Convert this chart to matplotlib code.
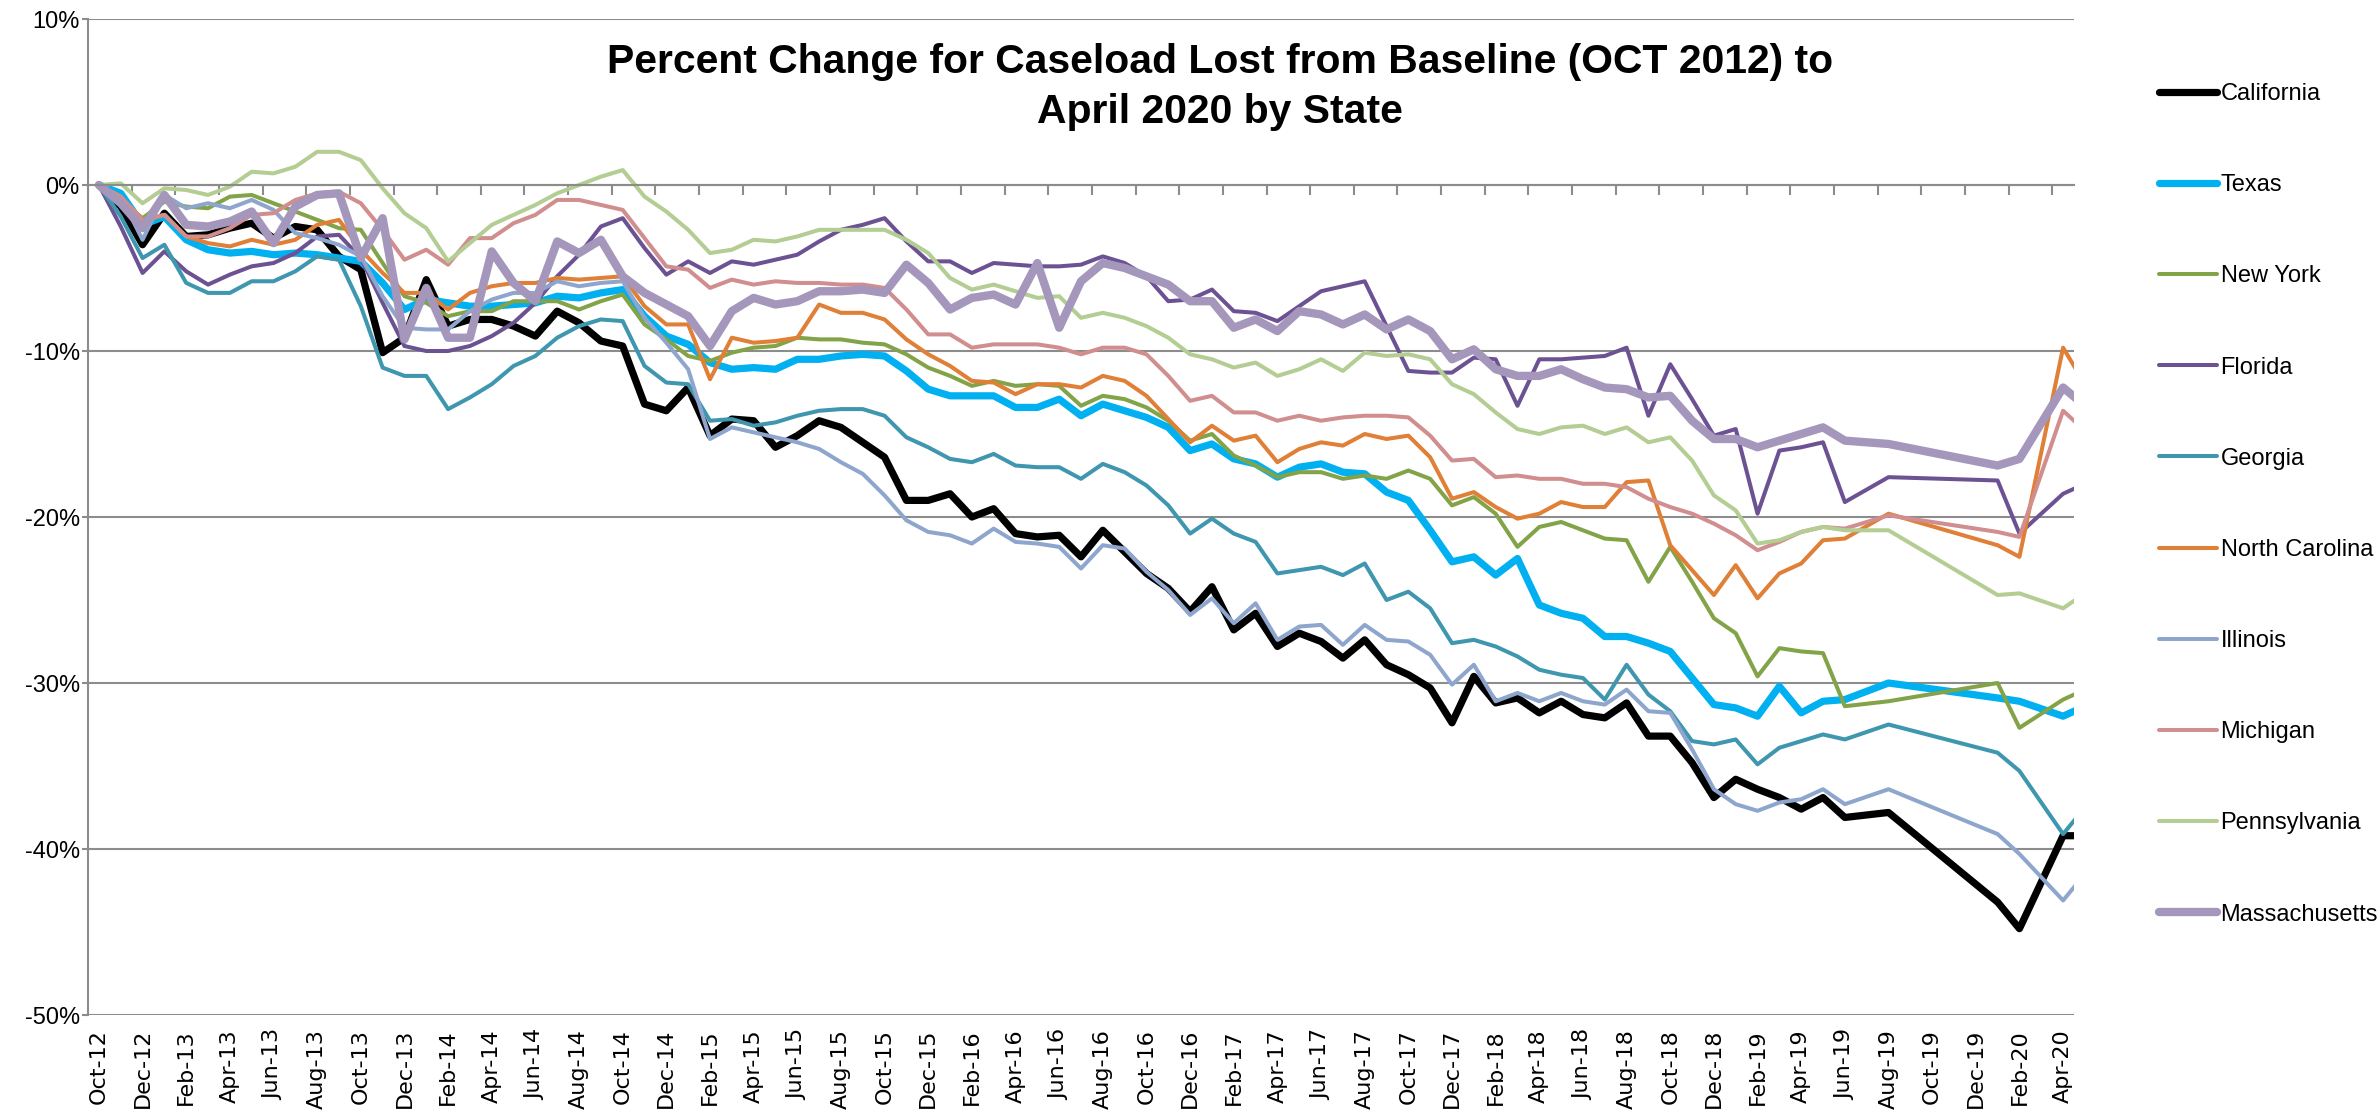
import numpy as np
import pandas as pd
import matplotlib
matplotlib.use('Agg')
import matplotlib.pyplot as plt

# monthly axis Oct-12 .. Apr-20 (May-20 is only the clipped tail at the right edge)
months = pd.date_range('2012-10-01', '2020-05-01', freq='MS')
month_labels = [m.strftime('%b-%y') for m in months]
n_shown = 91  # Oct-12 .. Apr-20

# percent change from Oct 2012, None = month with no data point
california = [0, -1.3, -3.6, -1.7, -3.1, -3.0, -2.6, -2.3, -3.2, -2.5,
              -2.7, -4.3, -5.1, -10.1, -9.2, -5.7, -8.5, -8.1, -8.1, -8.5,
              -9.1, -7.6, -8.3, -9.4, -9.7, -13.2, -13.6, -12.2, -15.1, -14.1,
              -14.2, -15.8, -15.1, -14.2, -14.6, -15.5, -16.4, -19.0, -19.0, -18.6,
              -20.0, -19.5, -21.0, -21.2, -21.1, -22.4, -20.8, -22.1, -23.4, -24.3,
              -25.7, -24.2, -26.8, -25.8, -27.8, -27.0, -27.5, -28.5, -27.4, -28.9,
              -29.5, -30.3, -32.4, -29.6, -31.2, -30.9, -31.8, -31.1, -31.9, -32.1,
              -31.2, -33.2, -33.2, -34.8, -36.9, -35.8, -36.4, -36.9, -37.6, -36.9,
              -38.1, None, -37.8, None, None, None, None, -43.2, -44.8, None,
              -39.2, -39.2]
texas = [0, -0.5, -2.4, -1.9, -3.3, -3.9, -4.1, -4.0, -4.2, -4.1,
         -4.2, -4.4, -4.6, -5.9, -7.5, -6.9, -7.1, -7.3, -7.3, -7.2,
         -7.1, -6.7, -6.8, -6.5, -6.3, -7.9, -9.1, -9.6, -10.7, -11.1,
         -11.0, -11.1, -10.5, -10.5, -10.3, -10.2, -10.3, -11.2, -12.3, -12.7,
         -12.7, -12.7, -13.4, -13.4, -12.9, -13.9, -13.2, -13.6, -14.0, -14.6,
         -16.0, -15.6, -16.5, -16.8, -17.6, -17.0, -16.8, -17.3, -17.4, -18.5,
         -19.0, -20.8, -22.7, -22.4, -23.5, -22.5, -25.3, -25.8, -26.1, -27.2,
         -27.2, -27.6, -28.1, -29.7, -31.3, -31.5, -32.0, -30.2, -31.8, -31.1,
         -31.0, None, -30.0, None, None, None, None, -30.9, -31.1, None,
         -32.0, -31.4]
new_york = [0, -0.9, -2.0, -1.0, -1.3, -1.4, -0.7, -0.6, -1.1, -1.6,
            -2.1, -2.6, -2.7, -4.7, -6.7, -7.1, -7.9, -7.6, -7.6, -7.0,
            -7.0, -7.0, -7.5, -7.0, -6.6, -8.4, -9.3, -10.3, -10.6, -10.1,
            -9.8, -9.7, -9.2, -9.3, -9.3, -9.5, -9.6, -10.2, -11.0, -11.5,
            -12.1, -11.8, -12.1, -12.0, -12.1, -13.3, -12.7, -12.9, -13.4, -14.2,
            -15.4, -15.0, -16.3, -16.9, -17.6, -17.3, -17.3, -17.7, -17.5, -17.7,
            -17.2, -17.7, -19.3, -18.8, -19.8, -21.8, -20.6, -20.3, -20.8, -21.3,
            -21.4, -23.9, -21.8, -23.9, -26.1, -27.0, -29.6, -27.9, -28.1, -28.2,
            -31.4, None, -31.1, None, None, None, None, -30.0, -32.7, None,
            -31.0, -30.4]
florida = [0, -2.5, -5.3, -4.0, -5.2, -6.0, -5.4, -4.9, -4.7, -4.1,
           -3.1, -3.0, -4.4, -7.1, -9.7, -10.0, -10.0, -9.7, -9.1, -8.3,
           -7.1, -5.5, -4.2, -2.5, -2.0, -3.8, -5.4, -4.6, -5.3, -4.6,
           -4.8, -4.5, -4.2, -3.4, -2.7, -2.4, -2.0, -3.4, -4.6, -4.6,
           -5.3, -4.7, -4.8, -4.9, -4.9, -4.8, -4.3, -4.7, -5.5, -7.0,
           -6.9, -6.3, -7.6, -7.7, -8.2, -7.3, -6.4, -6.1, -5.8, -8.5,
           -11.2, -11.3, -11.3, -10.4, -10.5, -13.3, -10.5, -10.5, -10.4, -10.3,
           -9.8, -13.9, -10.8, -12.9, -15.1, -14.7, -19.8, -16.0, -15.8, -15.5,
           -19.1, None, -17.6, None, None, None, None, -17.8, -21.0, None,
           -18.6, -18.0]
georgia = [0, -1.9, -4.4, -3.6, -5.9, -6.5, -6.5, -5.8, -5.8, -5.2,
           -4.3, -4.5, -7.3, -11.0, -11.5, -11.5, -13.5, -12.8, -12.0, -10.9,
           -10.3, -9.2, -8.5, -8.1, -8.2, -10.9, -11.9, -12.0, -14.2, -14.1,
           -14.5, -14.3, -13.9, -13.6, -13.5, -13.5, -13.9, -15.2, -15.8, -16.5,
           -16.7, -16.2, -16.9, -17.0, -17.0, -17.7, -16.8, -17.3, -18.1, -19.3,
           -21.0, -20.1, -21.0, -21.5, -23.4, -23.2, -23.0, -23.5, -22.8, -25.0,
           -24.5, -25.5, -27.6, -27.4, -27.8, -28.4, -29.2, -29.5, -29.7, -31.0,
           -28.9, -30.7, -31.7, -33.5, -33.7, -33.4, -34.9, -33.9, -33.5, -33.1,
           -33.4, None, -32.5, None, None, None, None, -34.2, -35.3, None,
           -39.1, -37.5]
north_carolina = [0, -0.7, -2.2, -1.8, -3.1, -3.5, -3.7, -3.3, -3.6, -3.3,
                  -2.4, -2.1, -3.9, -5.3, -6.5, -6.5, -7.5, -6.5, -6.1, -5.9,
                  -5.9, -5.6, -5.7, -5.6, -5.5, -7.3, -8.4, -8.4, -11.7, -9.2,
                  -9.5, -9.4, -9.2, -7.2, -7.7, -7.7, -8.1, -9.3, -10.2, -10.9,
                  -11.8, -11.9, -12.6, -12.0, -12.0, -12.2, -11.5, -11.8, -12.7, -14.1,
                  -15.5, -14.5, -15.4, -15.1, -16.7, -15.9, -15.5, -15.7, -15.0, -15.3,
                  -15.1, -16.4, -18.9, -18.5, -19.4, -20.1, -19.8, -19.1, -19.4, -19.4,
                  -17.9, -17.8, -21.7, -23.2, -24.7, -22.9, -24.9, -23.4, -22.8, -21.4,
                  -21.3, None, -19.8, None, None, None, None, -21.7, -22.4, None,
                  -9.8, -12.0]
illinois = [0, -0.7, -3.3, -0.6, -1.4, -1.1, -1.4, -0.9, -1.5, -2.9,
            -3.2, -3.6, -4.3, -6.7, -8.6, -8.7, -8.7, -7.6, -6.9, -6.5,
            -6.5, -5.8, -6.1, -5.9, -5.8, -8.0, -9.5, -11.1, -15.3, -14.6,
            -14.9, -15.2, -15.5, -15.9, -16.7, -17.4, -18.7, -20.2, -20.9, -21.1,
            -21.6, -20.7, -21.5, -21.6, -21.8, -23.1, -21.7, -21.9, -23.3, -24.4,
            -25.9, -24.9, -26.4, -25.2, -27.4, -26.6, -26.5, -27.7, -26.5, -27.4,
            -27.5, -28.3, -30.1, -28.9, -31.1, -30.6, -31.1, -30.6, -31.1, -31.3,
            -30.4, -31.7, -31.8, -34.0, -36.4, -37.3, -37.7, -37.2, -37.0, -36.4,
            -37.3, None, -36.4, None, None, None, None, -39.1, -40.3, None,
            -43.1, -41.5]
michigan = [0, -0.7, -2.1, -1.8, -3.1, -3.1, -2.6, -1.8, -1.7, -0.9,
            -0.5, -0.4, -1.1, -2.7, -4.5, -3.9, -4.8, -3.2, -3.2, -2.3,
            -1.8, -0.9, -0.9, -1.2, -1.5, -3.2, -4.9, -5.1, -6.2, -5.7,
            -6.0, -5.8, -5.9, -5.9, -6.0, -6.0, -6.2, -7.5, -9.0, -9.0,
            -9.8, -9.6, -9.6, -9.6, -9.8, -10.2, -9.8, -9.8, -10.2, -11.5,
            -13.0, -12.7, -13.7, -13.7, -14.2, -13.9, -14.2, -14.0, -13.9, -13.9,
            -14.0, -15.1, -16.6, -16.5, -17.6, -17.5, -17.7, -17.7, -18.0, -18.0,
            -18.2, -18.9, -19.4, -19.8, -20.4, -21.1, -22.0, -21.5, -20.9, -20.6,
            -20.7, None, -19.9, None, None, None, None, -20.9, -21.2, None,
            -13.6, -14.8]
pennsylvania = [0, 0.1, -1.1, -0.2, -0.3, -0.6, -0.1, 0.8, 0.7, 1.1,
                2.0, 2.0, 1.5, -0.2, -1.7, -2.6, -4.6, -3.5, -2.4, -1.8,
                -1.2, -0.5, 0.0, 0.5, 0.9, -0.7, -1.6, -2.7, -4.1, -3.9,
                -3.3, -3.4, -3.1, -2.7, -2.7, -2.7, -2.7, -3.3, -4.1, -5.6,
                -6.3, -6.0, -6.4, -6.8, -6.7, -8.0, -7.7, -8.0, -8.5, -9.2,
                -10.2, -10.5, -11.0, -10.7, -11.5, -11.1, -10.5, -11.2, -10.1, -10.3,
                -10.2, -10.5, -12.0, -12.6, -13.7, -14.7, -15.0, -14.6, -14.5, -15.0,
                -14.6, -15.5, -15.2, -16.6, -18.7, -19.6, -21.6, -21.4, -20.9, -20.6,
                -20.8, None, -20.8, None, None, None, None, -24.7, -24.6, None,
                -25.5, -24.6]
massachusetts = [0, -1.1, -2.6, -0.6, -2.4, -2.5, -2.2, -1.6, -3.5, -1.3,
                 -0.6, -0.5, -4.4, -2.0, -9.3, -6.2, -9.2, -9.2, -4.0, -5.9,
                 -7.0, -3.4, -4.1, -3.3, -5.5, -6.5, -7.2, -7.9, -9.7, -7.6,
                 -6.8, -7.2, -7.0, -6.4, -6.4, -6.3, -6.5, -4.8, -5.9, -7.5,
                 -6.8, -6.6, -7.2, -4.7, -8.6, -5.8, -4.7, -5.0, -5.5, -6.0,
                 -7.0, -7.0, -8.6, -8.1, -8.8, -7.6, -7.8, -8.4, -7.8, -8.7,
                 -8.1, -8.8, -10.5, -9.9, -11.1, -11.5, -11.5, -11.1, -11.7, -12.2,
                 -12.3, -12.8, -12.7, -14.2, -15.3, -15.3, -15.8, -15.4, -15.0, -14.6,
                 -15.4, None, -15.6, None, None, None, None, -16.9, -16.5, None,
                 -12.2, -13.3]

states = ['California', 'Texas', 'New York', 'Florida', 'Georgia',
          'North Carolina', 'Illinois', 'Michigan', 'Pennsylvania', 'Massachusetts']
values = [california, texas, new_york, florida, georgia,
          north_carolina, illinois, michigan, pennsylvania, massachusetts]
colors = ['#000000', '#00B0F0', '#82A347', '#6C5193', '#3F96AF',
          '#E07F36', '#8EA6CD', '#D18E8F', '#B3CD93', '#A596BB']
widths = [5.2, 5.2, 2.9, 2.9, 2.9, 2.9, 2.9, 2.9, 2.9, 6.0]

yticks = [10, 0, -10, -20, -30, -40, -50]
ytick_labels = ['10%', '0%', '-10%', '-20%', '-30%', '-40%', '-50%']

title = 'Percent Change for Caseload Lost from Baseline (OCT 2012) to\nApril 2020 by State'

sans = ['Liberation Sans', 'DejaVu Sans']
grid_col = '#8C8C8C'

W, H = 2379, 1110
fig = plt.figure(figsize=(W / 100, H / 100), dpi=100)
ax = fig.add_axes([88 / W, 1 - 1015 / H, (2074 - 88) / W, (1015 - 19) / H])

x = np.arange(len(months))
for name, vals, col, lw in zip(states, values, colors, widths):
    v = np.array(vals, dtype=float)
    ok = ~np.isnan(v)
    ax.plot(x[ok], v[ok], color=col, lw=lw, label=name,
            solid_joinstyle='round', solid_capstyle='round')

ax.set_xlim(-0.5, n_shown - 0.5)
ax.set_ylim(-50, 10)

# horizontal gridlines
ax.set_yticks(yticks, ytick_labels)
ax.yaxis.grid(True, color=grid_col, lw=1.5)
ax.set_axisbelow(True)
ax.tick_params(axis='y', length=4, width=1.5, color=grid_col, pad=2,
               labelsize=17, labelcolor='black')
for lab in ax.get_yticklabels():
    lab.set_family(sans)

for s in ['top', 'right']:
    ax.spines[s].set_visible(False)
ax.spines['left'].set_color(grid_col)
ax.spines['left'].set_linewidth(1.5)

# category axis crosses at 0%, tick marks every two months between categories
ax.spines['bottom'].set_position(('data', 0))
ax.spines['bottom'].set_color(grid_col)
ax.spines['bottom'].set_linewidth(1.5)
ax.set_xticks(np.arange(-0.5, n_shown - 1, 2))
ax.tick_params(axis='x', length=7, width=1.5, color=grid_col, labelbottom=False)

# month labels at the bottom of the plot
sec = ax.secondary_xaxis('bottom')
sec.set_xticks(x[:n_shown:2], month_labels[:n_shown:2])
sec.tick_params(length=0, labelrotation=90, labelsize=16, pad=10)
sec.spines['bottom'].set_visible(False)

fig.text(0.513, 0.922, title, ha='center', va='center', fontsize=29.4,
         fontweight='bold', family=sans, linespacing=1.4)

fig.legend(loc='upper left', bbox_to_anchor=(2159 / W, 1 - 83 / H),
           frameon=False, handlelength=2.45, handletextpad=0.16,
           labelspacing=2.93, borderpad=0, borderaxespad=0,
           prop={'family': sans, 'size': 17})

fig.savefig('out.png', dpi=100)
